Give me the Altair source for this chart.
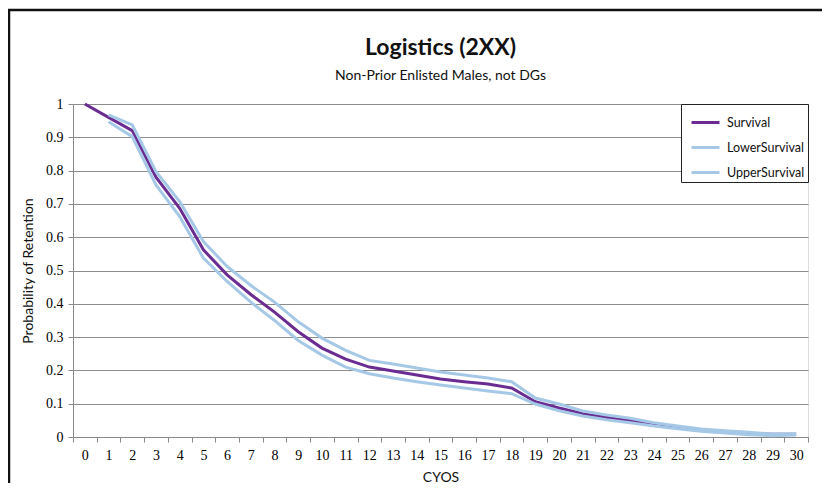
import altair as alt
import pandas as pd

cyos = list(range(31))
survival = [1.0, 0.96, 0.92, 0.78, 0.687, 0.562, 0.487, 0.428, 0.375, 0.316, 0.267, 0.234,
            0.21, 0.198, 0.186, 0.174, 0.166, 0.159, 0.147, 0.106, 0.087, 0.07, 0.059, 0.049,
            0.039, 0.029, 0.021, 0.016, 0.011, 0.008, 0.008]
lower = [None, 0.947, 0.902, 0.757, 0.662, 0.537, 0.467, 0.405, 0.35, 0.29, 0.246, 0.21,
         0.19, 0.177, 0.166, 0.156, 0.147, 0.138, 0.13, 0.099, 0.079, 0.063, 0.052, 0.043,
         0.033, 0.025, 0.017, 0.012, 0.007, 0.004, 0.006]
upper = [None, 0.967, 0.937, 0.797, 0.707, 0.587, 0.512, 0.455, 0.405, 0.346, 0.297, 0.26,
         0.23, 0.219, 0.207, 0.195, 0.186, 0.177, 0.166, 0.117, 0.099, 0.078, 0.066, 0.056,
         0.043, 0.033, 0.024, 0.019, 0.014, 0.009, 0.01]

series = ["Survival", "LowerSurvival", "UpperSurvival"]
colors = ["#6a2c91", "#a5c8e6", "#a5c8e6"]

rows = []
for name, vals in zip(series, [survival, lower, upper]):
    for c, v in zip(cyos, vals):
        if v is not None:
            rows.append({"CYOS": str(c), "series": name, "value": v, "order": series.index(name)})
df = pd.DataFrame(rows)

lines = alt.Chart(df).mark_line(strokeWidth=3, clip=False).encode(
    x=alt.X("CYOS:N", sort=[str(c) for c in cyos],
            scale=alt.Scale(paddingInner=0, paddingOuter=0),
            axis=alt.Axis(title="CYOS", labelAngle=0, tickBand="extent", grid=False,
                          domainColor="#888888", tickColor="#888888", tickSize=5,
                          labelFont="Liberation Serif", labelFontSize=14, labelColor="#000000",
                          labelPadding=6, titleFont="Lato", titleFontSize=14,
                          titleFontWeight="normal", titleColor="#111111", titlePadding=8)),
    y=alt.Y("value:Q", scale=alt.Scale(domain=[0, 1], nice=False),
            axis=alt.Axis(title="Probability of Retention", values=[i / 10 for i in range(11)],
                          format=".1~f", grid=True, gridColor="#8c8c8c", gridWidth=1,
                          domainColor="#888888", tickColor="#888888", tickSize=5,
                          labelFont="Liberation Serif", labelFontSize=14, labelColor="#000000",
                          labelPadding=5, titleFont="Lato", titleFontSize=14,
                          titleFontWeight="normal", titleColor="#111111", titlePadding=10)),
    color=alt.Color("series:N", sort=series,
                    scale=alt.Scale(domain=series, range=colors),
                    legend=alt.Legend(title=None, orient="none", legendX=608, legendY=0,
                                      symbolType="stroke", symbolSize=784, symbolStrokeWidth=3,
                                      labelFont="Lato", labelFontSize=12.5, labelColor="#111111",
                                      labelOffset=6, padding=3, rowPadding=3, symbolOffset=6,
                                      strokeColor="#222222", fillColor="white")),
    order=alt.Order("order:Q"),
    detail="series:N",
)

frame = alt.Chart(pd.DataFrame({"a": [0]})).mark_rect(
    fill=None, stroke="#111111", strokeWidth=2.5, clip=False
).encode(x=alt.value(-64), x2=alt.value(780), y=alt.value(-94), y2=alt.value(400))

chart = alt.layer(frame, lines).properties(
    width=735, height=333,
    title=alt.TitleParams(text="Logistics (2XX)", subtitle="Non-Prior Enlisted Males, not DGs",
                          font="Lato", fontSize=23, fontWeight="bold", color="#111111",
                          subtitleFont="Lato", subtitleFontSize=14, subtitleColor="#111111",
                          subtitlePadding=9, anchor="middle", frame="group", offset=0, dy=74),
    autosize=alt.AutoSizeParams(type="none"),
    padding={"left": 65, "top": 96, "right": 14, "bottom": 46},
).configure_view(stroke=None).configure(background="white")

chart.save("out.html", embed_options={"renderer": "svg", "actions": False})
